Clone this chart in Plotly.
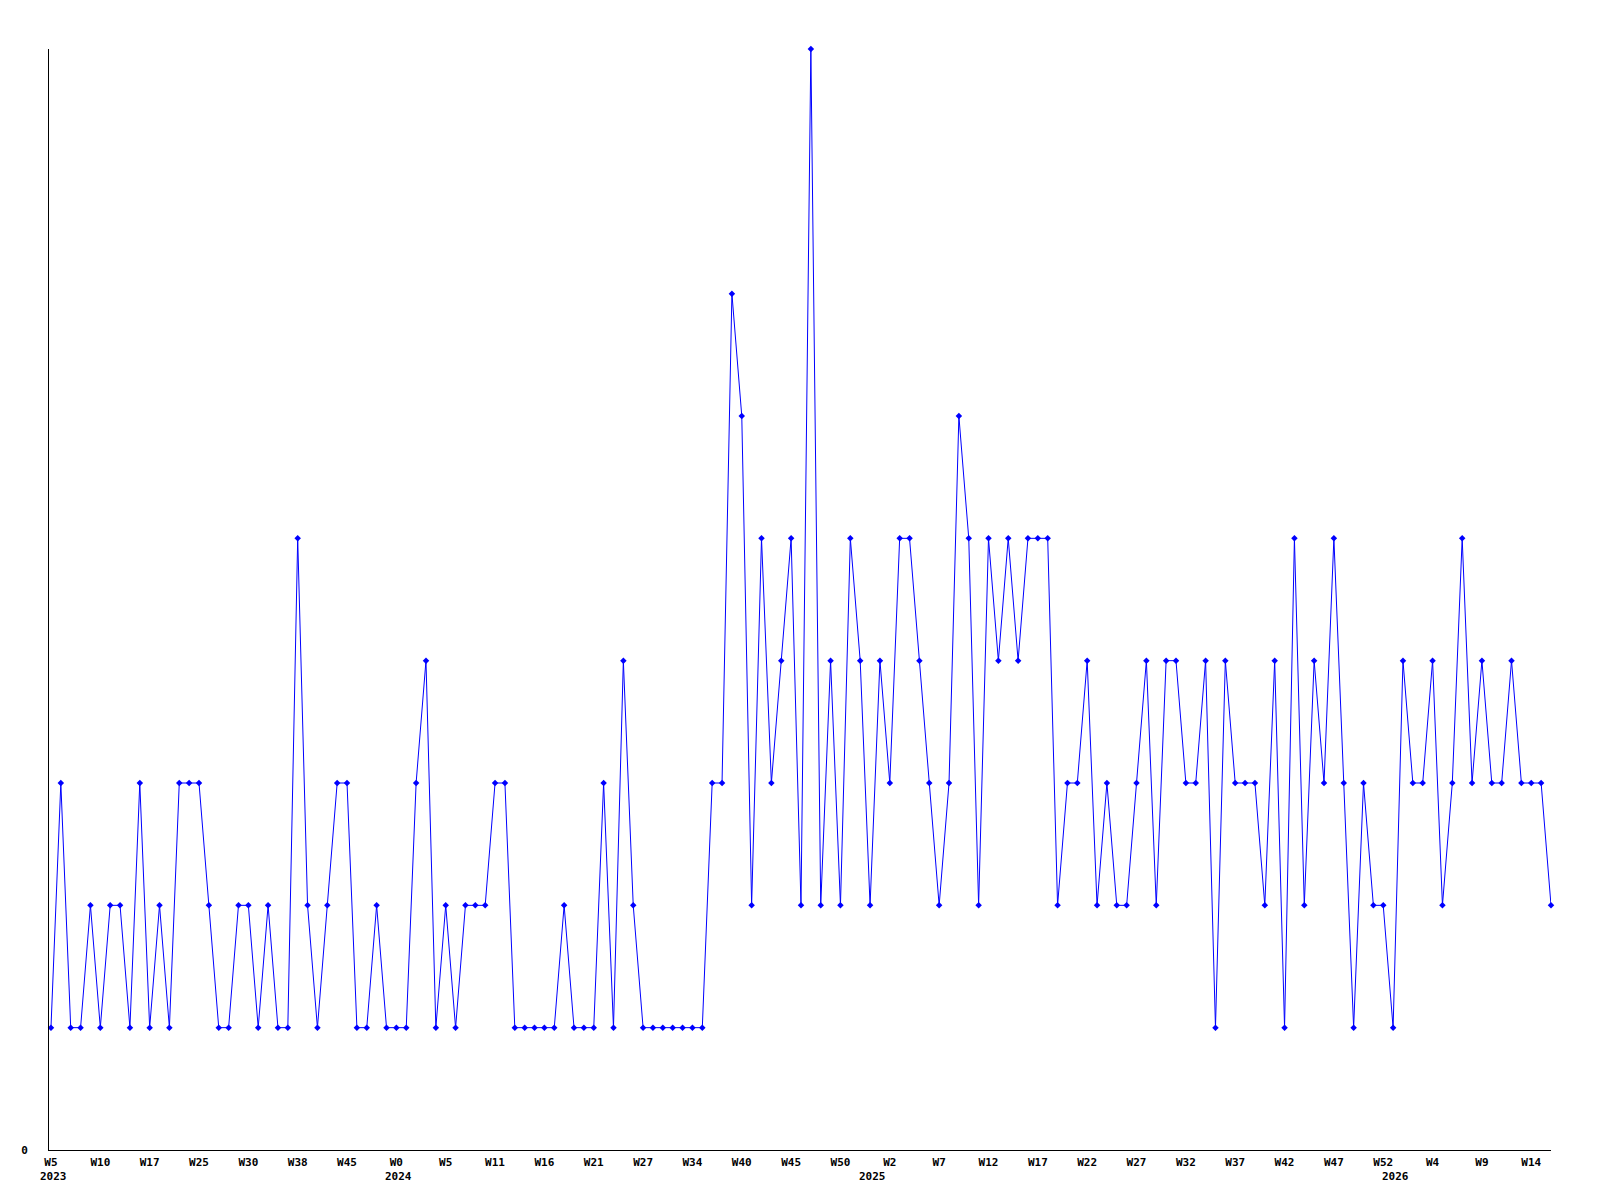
import plotly.graph_objects as go

# values per data point (index order)
values = [
    1, 3, 1, 1, 2, 1, 2, 2, 1, 3,
    1, 2, 1, 3, 3, 3, 2, 1, 1, 2,
    2, 1, 2, 1, 1, 5, 2, 1, 2, 3,
    3, 1, 1, 2, 1, 1, 1, 3, 4, 1,
    2, 1, 2, 2, 2, 3, 3, 1, 1, 1,
    1, 1, 2, 1, 1, 1, 3, 1, 4, 2,
    1, 1, 1, 1, 1, 1, 1, 3, 3, 7,
    6, 2, 5, 3, 4, 5, 2, 9, 2, 4,
    2, 5, 4, 2, 4, 3, 5, 5, 4, 3,
    2, 3, 6, 5, 2, 5, 4, 5, 4, 5,
    5, 5, 2, 3, 3, 4, 2, 3, 2, 2,
    3, 4, 2, 4, 4, 3, 3, 4, 1, 4,
    3, 3, 3, 2, 4, 1, 5, 2, 4, 3,
    5, 3, 1, 3, 2, 2, 1, 4, 3, 3,
    4, 2, 3, 5, 3, 4, 3, 3, 4, 3,
    3, 3, 2,
]

# week tick labels, every 5th point
tick_index = list(range(0, 151, 5))
tick_labels = [
    "W5", "W10", "W17", "W25", "W30", "W38", "W45", "W0", "W5", "W11",
    "W16", "W21", "W27", "W34", "W40", "W45", "W50", "W2", "W7", "W12",
    "W17", "W22", "W27", "W32", "W37", "W42", "W47", "W52", "W4", "W9",
    "W14",
]

# year labels at the first point of each year
year_index = [0, 35, 83, 136]
year_labels = ["2023", "2024", "2025", "2026"]

x_idx = list(range(len(values)))

font = dict(family="DejaVu Sans Mono", size=11, color="black", weight="bold")

fig = go.Figure()
fig.add_trace(go.Scatter(
    x=x_idx, y=values, mode="lines+markers",
    line=dict(color="#0000ff", width=1),
    marker=dict(symbol="diamond", size=5, color="#0000ff"),
    cliponaxis=False, hoverinfo="x+y",
))

for xi, lab in zip(year_index, year_labels):
    fig.add_annotation(
        x=xi, y=0, xref="x", yref="y", text=lab, showarrow=False,
        xanchor="left", yanchor="top", xshift=-13, yshift=-18, font=font,
    )

fig.update_layout(
    width=1592, height=1192,
    margin=dict(l=41, r=49, t=41, b=50),
    plot_bgcolor="white", paper_bgcolor="white",
    showlegend=False,
    xaxis=dict(
        range=[-0.2, 152], showgrid=False, zeroline=False,
        showline=True, linecolor="black", linewidth=1,
        tickmode="array", tickvals=tick_index, ticktext=tick_labels,
        ticks="outside", ticklen=2,
        tickcolor="rgba(0,0,0,0)", tickfont=font, automargin=False,
    ),
    yaxis=dict(
        range=[0, 9], showgrid=False, zeroline=False,
        showline=True, linecolor="black", linewidth=1,
        tickmode="array", tickvals=[0], ticktext=["0"],
        ticks="outside", ticklen=18, tickcolor="rgba(0,0,0,0)", tickfont=font,
        automargin=False,
    ),
)

fig.write_html("out.html")
